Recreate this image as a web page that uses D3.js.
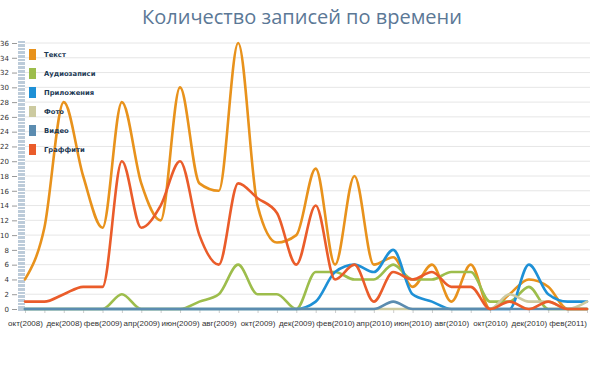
<!DOCTYPE html>
<html><head><meta charset="utf-8">
<script src="https://cdnjs.cloudflare.com/ajax/libs/d3/7.8.5/d3.min.js"></script>
<style>
html,body{margin:0;padding:0;background:#fff;}
svg{display:block;}
</style></head><body>
<script>
const months = ["окт(2008)","ноя(2008)","дек(2008)","янв(2009)","фев(2009)","мар(2009)","апр(2009)","май(2009)","июн(2009)","июл(2009)","авг(2009)","сен(2009)","окт(2009)","ноя(2009)","дек(2009)","янв(2010)","фев(2010)","мар(2010)","апр(2010)","май(2010)","июн(2010)","июл(2010)","авг(2010)","сен(2010)","окт(2010)","ноя(2010)","дек(2010)","янв(2011)","фев(2011)","мар(2011)"];
const seriesNames = ["Текст","Аудиозаписи","Приложения","Фото","Видео","Граффити"];
const textVals     = [4,11,28,18,11,28,17,12,30,17,16,36,14,9,10,19,6,18,6,7,3,6,1,6,0,2,4,3,0,0];
const audioVals    = [0,0,0,0,0,2,0,0,0,1,2,6,2,2,0,5,5,4,4,6,4,4,5,5,1,1,3,0,0,0];
const appsVals     = [0,0,0,0,0,0,0,0,0,0,0,0,0,0,0,1,5,6,5,8,2,1,0,0,0,0,6,2,1,1];
const photoVals    = [0,0,0,0,0,0,0,0,0,0,0,0,0,0,0,0,0,0,0,0,0,0,0,0,0,2,1,1,0,1];
const videoVals    = [0,0,0,0,0,0,0,0,0,0,0,0,0,0,0,0,0,0,0,1,0,0,0,0,0,0,0,0,0,0];
const graffitiVals = [1,1,2,3,3,20,11,14,20,10,6,17,15,13,6,14,4,6,1,5,4,5,3,3,0,1,0,1,0,0];
const yTicks = d3.range(0, 37, 2);
const colors = ["#e8921c","#9dbd4c","#1e90d6","#cccaa0","#5b8cb0","#ea5c2a"];

const allVals = [textVals,audioVals,appsVals,photoVals,videoVals,graffitiVals];
const W = 604, H = 378;
const svg = d3.select("body").append("svg").attr("width", W).attr("height", H);

const x = d3.scalePoint().domain(months).range([25, 587]);
const y = d3.scaleLinear().domain([0, 36]).range([309, 43]);

// title
svg.append("text").attr("x", 302).attr("y", 24).attr("text-anchor","middle")
  .attr("font-family","'Open Sans', sans-serif").attr("font-size", 20)
  .attr("fill","#5b7896").text("Количество записей по времени");

// gridlines
svg.append("g").selectAll("line").data(yTicks.filter(d=>d>0)).join("line")
  .attr("x1", 25).attr("x2", 590).attr("y1", d=>y(d)).attr("y2", d=>y(d))
  .attr("stroke", "#e6e6e6").attr("stroke-width", 1);

// ruler bar
svg.append("rect").attr("x", 18).attr("y", y(36)-2).attr("width", 7).attr("height", y(0)-y(36)+4)
  .attr("fill", "#bccbd9");
svg.append("g").selectAll("line").data(d3.range(0.5, 36.5, 0.5)).join("line")
  .attr("x1", 18).attr("x2", 25).attr("y1", d=>Math.round(y(d))+0.5).attr("y2", d=>Math.round(y(d))+0.5)
  .attr("stroke", "#fff").attr("stroke-width", 1);

// y axis
const yAxis = d3.axisLeft(y).tickValues(yTicks).tickSize(5).tickPadding(3);
const gy = svg.append("g").attr("transform","translate(17,0)").call(yAxis);
gy.select(".domain").remove();
gy.selectAll(".tick line").attr("stroke","#999");
gy.selectAll(".tick text").attr("font-family","'DejaVu Sans', sans-serif").attr("font-size",7).attr("fill","#333");

// x axis
const xAxis = d3.axisBottom(x).tickSize(4).tickPadding(7)
  .tickFormat((d,i)=> i%2===0 ? d : "");
const gx = svg.append("g").attr("transform","translate(0,309)").call(xAxis);
gx.select(".domain").remove();
gx.selectAll(".tick line").attr("stroke","#ccc");
gx.selectAll(".tick text").attr("font-family","'Liberation Sans', Arial, sans-serif").attr("font-size",8).attr("fill","#333");

// lines
const line = d3.line().x((d,i)=>x(months[i])).y(d=>y(d)).curve(d3.curveMonotoneX);
svg.append("g").selectAll("path").data(allVals).join("path")
  .attr("d", d=>line(d)).attr("fill","none")
  .attr("stroke", (d,i)=>colors[i]).attr("stroke-width", 2.6)
  .attr("stroke-linejoin","round").attr("stroke-linecap","round");

// legend
const lg = svg.append("g").selectAll("g").data(seriesNames).join("g")
  .attr("transform", (d,i)=>`translate(29,${54 + i*19})`);
lg.append("rect").attr("x",0).attr("y",-5).attr("width",7).attr("height",11)
  .attr("fill",(d,i)=>colors[i]);
lg.append("text").attr("x",15).attr("y",3).attr("font-family","'DejaVu Sans', sans-serif")
  .attr("font-weight","bold").attr("font-size",6.8).attr("fill","#1d3a55").text(d=>d);
</script>
</body></html>
